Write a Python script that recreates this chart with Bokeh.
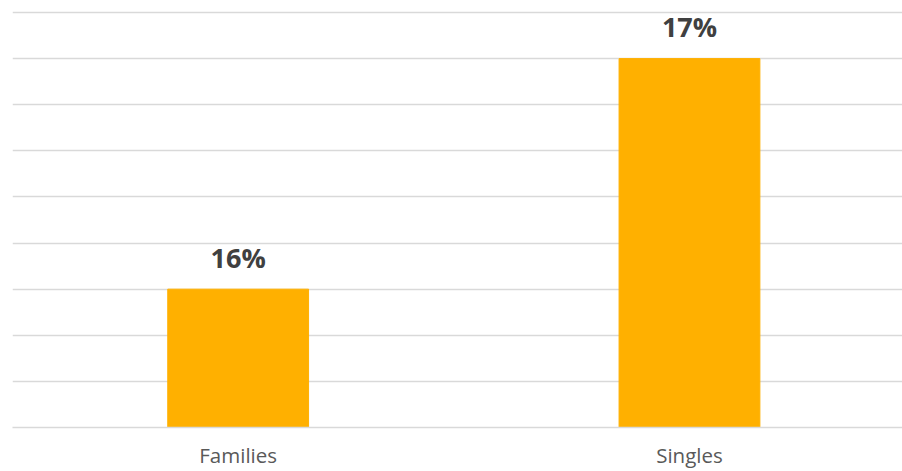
from bokeh.plotting import figure
from bokeh.models import ColumnDataSource, Range1d, FixedTicker
from bokeh.core.properties import value
from bokeh.embed import file_html
from bokeh.resources import INLINE

categories = ["Families", "Singles"]
values = [16.0, 17.0]
grid_ticks = [15.4, 15.6, 15.8, 16.0, 16.2, 16.4, 16.6, 16.8, 17.0, 17.2]

y_start, y_end = 15.4, 17.2087
xs = [i + 0.5 for i in range(len(categories))]
labels = [f"{v:.0f}%" for v in values]

src = ColumnDataSource(dict(x=xs, top=values, label=labels))

p = figure(width=902, height=471, output_backend="svg", toolbar_location=None,
           x_range=Range1d(0, 1.972), y_range=Range1d(y_start, y_end),
           min_border_left=12, min_border_right=0, min_border_top=10, min_border_bottom=44)
p.outline_line_color = None
p.background_fill_color = "white"
p.border_fill_color = "white"

p.vbar(x="x", top="top", bottom=y_start, width=0.312, color="#FFB000", source=src)
p.text(x="x", y="top", text="label", source=src, text_align="center",
       text_baseline="alphabetic", y_offset=-32, text_font=value("Open Sans"),
       text_font_style="bold", text_font_size="27px", text_color="#404040")

p.yaxis.visible = False
p.ygrid.ticker = FixedTicker(ticks=grid_ticks)
p.ygrid.grid_line_color = "#D9D9D9"
p.ygrid.grid_line_width = 1.5
p.xgrid.visible = False

ax = p.xaxis[0]
ax.ticker = FixedTicker(ticks=xs)
ax.major_label_overrides = {x: c for x, c in zip(xs, categories)}
ax.axis_line_color = "#D9D9D9"
ax.axis_line_width = 1.5
ax.major_tick_line_color = None
ax.minor_tick_line_color = None
ax.major_tick_out = 0
ax.major_tick_in = 0
ax.major_label_standoff = 13
ax.major_label_text_font = "Open Sans"
ax.major_label_text_font_size = "20.5px"
ax.major_label_text_color = "#595959"

open("out.html", "w").write(file_html(p, INLINE))
